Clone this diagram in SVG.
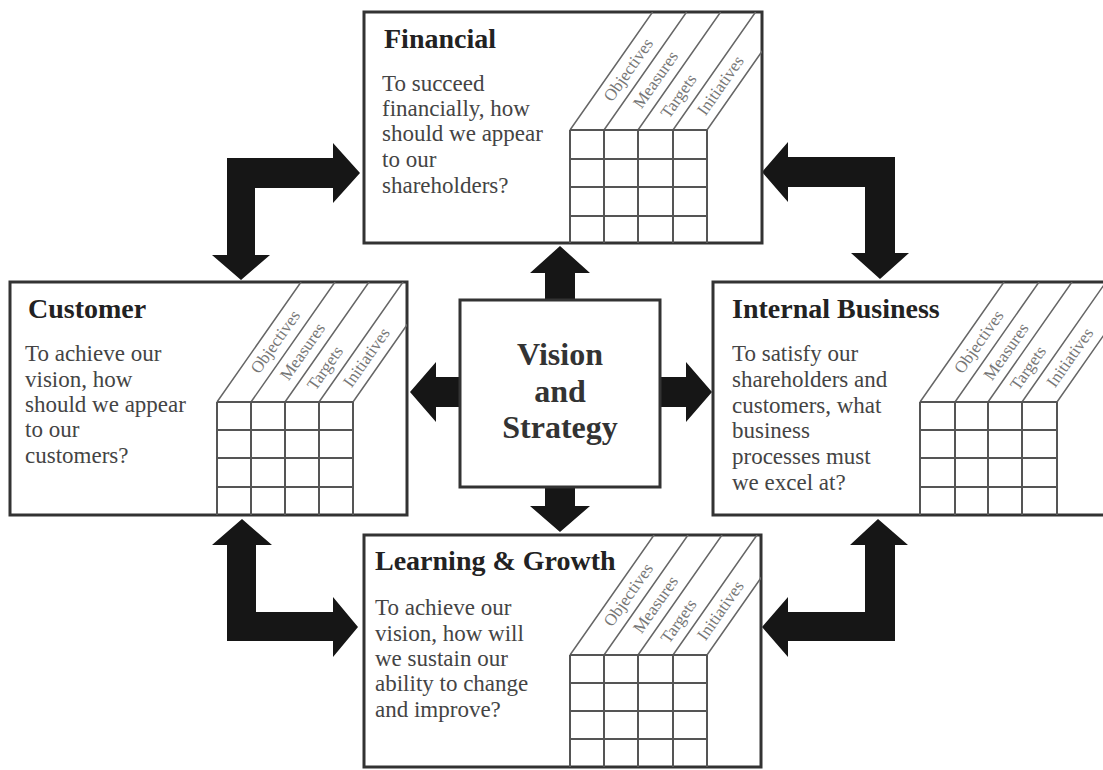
<svg xmlns="http://www.w3.org/2000/svg" width="1103" height="770" viewBox="0 0 1103 770">
<style>
.box{fill:#fff;stroke:#333;stroke-width:3}
.grid{stroke:#555;stroke-width:2;fill:none}
.slant{stroke:#666;stroke-width:1.5;fill:none}
.hdr{font-family:"Liberation Serif",serif;font-size:17px;fill:#777;text-anchor:middle}
.title{font-family:"Liberation Serif",serif;font-weight:bold;font-size:28px;fill:#222}
.body{font-family:"Liberation Serif",serif;font-size:23px;fill:#444}
.vs{font-family:"Liberation Serif",serif;font-weight:bold;font-size:32px;fill:#333;text-anchor:middle}
.arrow{fill:#161616}
</style>
<defs>
<clipPath id="cf"><rect x="364" y="12" width="398" height="231"/></clipPath>
<clipPath id="cc"><rect x="10" y="282" width="397" height="233"/></clipPath>
<clipPath id="ci"><rect x="713" y="282" width="393" height="233"/></clipPath>
<clipPath id="cl"><rect x="364" y="535" width="397" height="232"/></clipPath>
</defs>

<g id="connectors">
<polygon class="arrow" points="560,246 590,273 575,273 575,300 545,300 545,273 530,273"/>
<polygon class="arrow" points="560,532 590,506 575,506 575,487 545,487 545,506 530,506"/>
<polygon class="arrow" points="410,392 436,362 436,377 460,377 460,407 436,407 436,422"/>
<polygon class="arrow" points="712,392 686,362 686,377 660,377 660,407 686,407 686,422"/>
<polygon class="arrow" points="360,173 333,143 333,158 227,158 227,255 212,255 241,280 270,255 255,255 255,188 333,188 333,203"/>
<polygon class="arrow" points="762,172 788,142 788,157 895,157 895,253 909,253 880,279 851,253 865,253 865,187 788,187 788,202"/>
<polygon class="arrow" points="242,519 272,545 256,545 256,612 333,612 333,597 358,627 333,657 333,641 227,641 227,545 212,545"/>
<polygon class="arrow" points="878,519 908,545 895,545 895,641 788,641 788,657 762,627 788,597 788,612 865,612 865,545 850,545"/>
</g>

<g id="financial">
<rect class="box" x="364" y="12" width="398" height="231"/>
<g clip-path="url(#cf)">
<path class="slant" d="M570,130L652.6,12M604,130L686.6,12M638,130L720.6,12M673,130L755.6,12M707,130L789.6,12"/>
<path class="grid" d="M570,130V243M604,130V243M638,130V243M673,130V243M707,130V243M570,130H707M570,159H707M570,187H707M570,216H707"/>
<text class="hdr" transform="translate(628.8,70.2) rotate(-55)" y="5">Objectives</text>
<text class="hdr" transform="translate(656,80) rotate(-55)" y="5">Measures</text>
<text class="hdr" transform="translate(679,96.4) rotate(-55)" y="5">Targets</text>
<text class="hdr" transform="translate(720.9,85.8) rotate(-55)" y="5">Initiatives</text>
</g>
<text class="title" x="384" y="48">Financial</text>
<text class="body"><tspan x="382" y="91">To succeed</tspan><tspan x="382" y="116">financially, how</tspan><tspan x="382" y="141">should we appear</tspan><tspan x="382" y="167">to our</tspan><tspan x="382" y="193">shareholders?</tspan></text>
</g>

<g id="customer">
<rect class="box" x="10" y="282" width="397" height="233"/>
<g clip-path="url(#cc)">
<path class="slant" d="M217,402L301,282M251,402L335,282M285,402L369,282M319,402L403,282M353,402L437,282"/>
<path class="grid" d="M217,402V515M251,402V515M285,402V515M319,402V515M353,402V515M217,402H353M217,430H353M217,458H353M217,487H353"/>
<text class="hdr" transform="translate(275.8,342.2) rotate(-55)" y="5">Objectives</text>
<text class="hdr" transform="translate(303,352) rotate(-55)" y="5">Measures</text>
<text class="hdr" transform="translate(325.5,368.4) rotate(-55)" y="5">Targets</text>
<text class="hdr" transform="translate(366.9,357.8) rotate(-55)" y="5">Initiatives</text>
</g>
<text class="title" x="28" y="318">Customer</text>
<text class="body"><tspan x="25" y="361">To achieve our</tspan><tspan x="25" y="387">vision, how</tspan><tspan x="25" y="412">should we appear</tspan><tspan x="25" y="437">to our</tspan><tspan x="25" y="463">customers?</tspan></text>
</g>

<g id="internal-business">
<rect class="box" x="713" y="282" width="393" height="233"/>
<g clip-path="url(#ci)">
<path class="slant" d="M920,402L1004,282M955,402L1039,282M988,402L1072,282M1022,402L1106,282M1057,402L1141,282"/>
<path class="grid" d="M920,402V515M955,402V515M988,402V515M1022,402V515M1057,402V515M920,402H1057M920,430H1057M920,458H1057M920,487H1057"/>
<text class="hdr" transform="translate(979.3,342.2) rotate(-55)" y="5">Objectives</text>
<text class="hdr" transform="translate(1006.5,352) rotate(-55)" y="5">Measures</text>
<text class="hdr" transform="translate(1028.5,368.4) rotate(-55)" y="5">Targets</text>
<text class="hdr" transform="translate(1070.4,357.8) rotate(-55)" y="5">Initiatives</text>
</g>
<text class="title" x="732" y="318">Internal Business</text>
<text class="body"><tspan x="732" y="361">To satisfy our</tspan><tspan x="732" y="387">shareholders and</tspan><tspan x="732" y="413">customers, what</tspan><tspan x="732" y="438">business</tspan><tspan x="732" y="464">processes must</tspan><tspan x="732" y="490">we excel at?</tspan></text>
</g>

<g id="learning-growth">
<rect class="box" x="364" y="535" width="397" height="232"/>
<g clip-path="url(#cl)">
<path class="slant" d="M570,655L654,535M604,655L688,535M638,655L722,535M673,655L757,535M707,655L791,535"/>
<path class="grid" d="M570,655V767M604,655V767M638,655V767M673,655V767M707,655V767M570,655H707M570,683H707M570,711H707M570,739H707"/>
<text class="hdr" transform="translate(628.8,595.2) rotate(-55)" y="5">Objectives</text>
<text class="hdr" transform="translate(656,605) rotate(-55)" y="5">Measures</text>
<text class="hdr" transform="translate(679,621.4) rotate(-55)" y="5">Targets</text>
<text class="hdr" transform="translate(720.9,610.8) rotate(-55)" y="5">Initiatives</text>
</g>
<text class="title" x="375" y="570">Learning &amp; Growth</text>
<text class="body"><tspan x="375" y="615">To achieve our</tspan><tspan x="375" y="641">vision, how will</tspan><tspan x="375" y="666">we sustain our</tspan><tspan x="375" y="691">ability to change</tspan><tspan x="375" y="717">and improve?</tspan></text>
</g>

<g id="vision-strategy">
<rect class="box" x="460" y="300" width="200" height="187"/>
<text class="vs"><tspan x="560" y="365">Vision</tspan><tspan x="560" y="402">and</tspan><tspan x="560" y="438">Strategy</tspan></text>
</g>
</svg>
